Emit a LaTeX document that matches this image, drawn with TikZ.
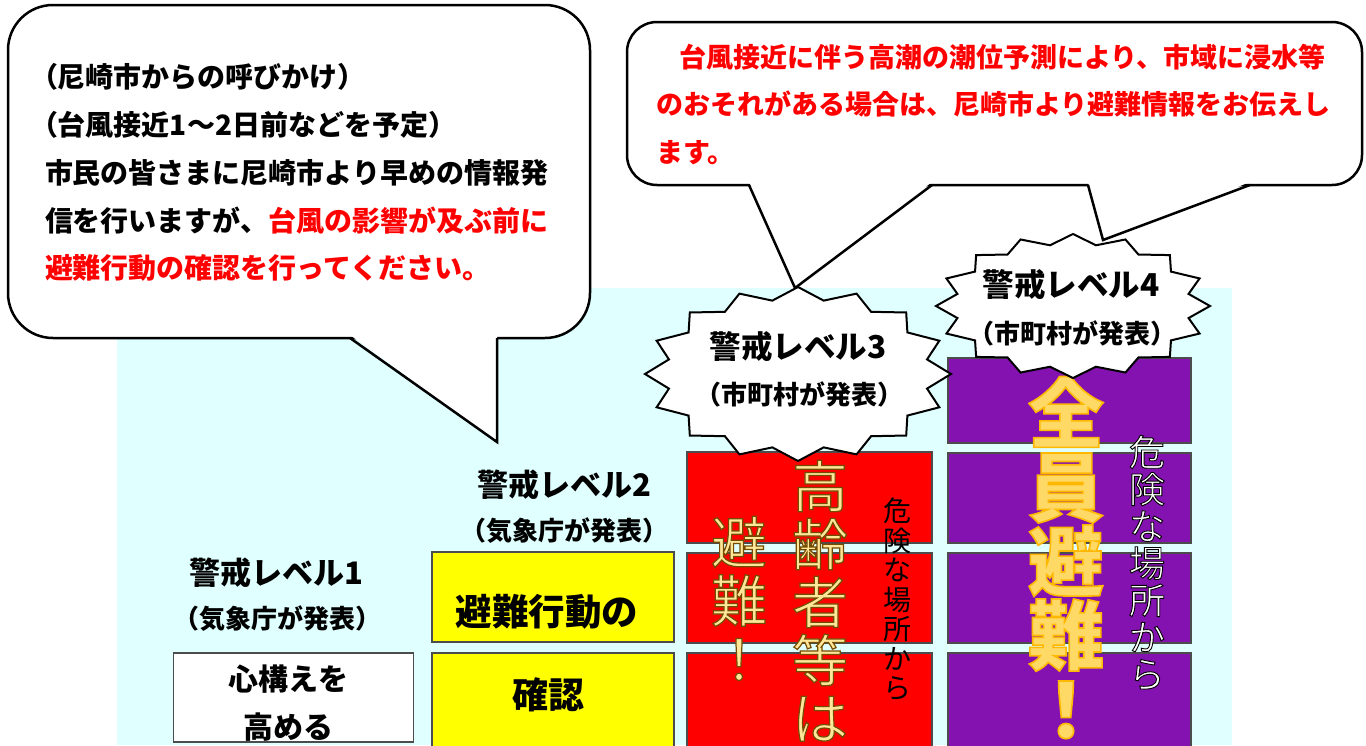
\documentclass[tikz,border=0pt]{standalone}
\usepackage{fontspec}
\setmainfont{Noto Sans CJK JP}
\usetikzlibrary{calc}
\definecolor{bgcyan}{HTML}{E0FFFF}
\definecolor{lvred}{HTML}{FF0000}
\definecolor{lvpurple}{HTML}{8412B0}
\definecolor{lvyellow}{HTML}{FFFF00}
\definecolor{goldA}{HTML}{FFE699}
\definecolor{goldB}{HTML}{FFD966}
\definecolor{txtred}{HTML}{FF0000}
\newcommand\fs[2]{\fontsize{#1}{#2}\selectfont\lineskiplimit=-200pt\relax}
\newcommand\cjs{\rule[-0.12em]{0pt}{1em}}
\newcommand\outl[3]{\special{pdf:literal direct #1 RG #2 w 2 Tr}#3\special{pdf:literal direct 0 Tr}}
\newcommand\burst[5]{%
  \filldraw[burstline] plot[samples at={0,...,31}, variable=\q]
   ({#1+#3*(1-#5*mod(\q,2))*cos(90+11.25*\q)},{#2-#4*(1-#5*mod(\q,2))*sin(90+11.25*\q)}) -- cycle;}
\begin{document}
\begin{tikzpicture}[x=1pt,y=-1pt,
  txt/.style={inner sep=0pt,outer sep=0pt},
  lvbox/.style={draw=black!70,line width=1.3pt,inner sep=0pt,outer sep=0pt},
  callbox/.style={draw=black,fill=white,line width=2.5pt,rectangle,inner sep=0pt},
  tailline/.style={draw=black,line width=2.5pt,line join=miter},
  burstline/.style={draw=black,fill=white,line width=2pt,line join=miter}]
\useasboundingbox (0,0) rectangle (1366,745);
\fill[white] (0,0) rectangle (1366,745);
\fill[bgcyan] (117,288) rectangle (1232,745);

% level boxes
\node[lvbox,fill=white,minimum width=240pt,minimum height=89pt] (w1) at (293.5,697.5) {};
\node[lvbox,fill=lvyellow,minimum width=242pt,minimum height=90pt] (y1) at (553,597) {};
\node[lvbox,fill=lvyellow,minimum width=242pt,minimum height=95pt] (y2) at (553,700.5) {};
\node[lvbox,fill=lvred,minimum width=245pt,minimum height=91pt] (r1) at (809.5,497.5) {};
\node[lvbox,fill=lvred,minimum width=245pt,minimum height=90pt] (r2) at (809.5,598) {};
\node[lvbox,fill=lvred,minimum width=245pt,minimum height=95pt] (r3) at (809.5,700.5) {};
\node[lvbox,fill=lvpurple,minimum width=243pt,minimum height=85pt] (p1) at (1069.5,400.5) {};
\node[lvbox,fill=lvpurple,minimum width=243pt,minimum height=90pt] (p2) at (1069.5,498) {};
\node[lvbox,fill=lvpurple,minimum width=243pt,minimum height=90pt] (p3) at (1069.5,598) {};
\node[lvbox,fill=lvpurple,minimum width=243pt,minimum height=95pt] (p4) at (1069.5,700.5) {};

% level labels
\node[txt,font=\fs{31}{31}\bfseries] (l1a) at (276,573) {\cjs 警戒レベル1};
\node[txt,font=\fs{26}{26}\bfseries] (l1b) at (277,619) {\cjs （気象庁が発表）};
\node[txt,font=\fs{31}{31}\bfseries] (l2a) at (564,485) {\cjs 警戒レベル2};
\node[txt,font=\fs{26}{26}\bfseries] (l2b) at (564,531) {\cjs （気象庁が発表）};

% box texts
\node[txt,font=\fs{30}{30}\bfseries] (w1a) at (288,679) {\cjs 心構えを};
\node[txt,font=\fs{30}{30}\bfseries] (w1b) at (288,727) {\cjs 高める};
\node[txt,font=\fs{36.5}{36.5}\bfseries] (y1t) at (547,612) {\cjs 避難行動の};
\node[txt,font=\fs{36}{36}\bfseries] (y2t) at (548,695) {\cjs 確認};

% vertical texts
\node[txt,anchor=north,align=center,text=goldA,font=\fs{56}{58.5}] (hinan) at (739,514)
  {\outl{0.45 0.3 0}{1.2}{\cjs 避\\難\\！}};
\node[txt,anchor=north,align=center,text=goldA,font=\fs{56}{58}] (koreisha) at (820,458)
  {\outl{0.45 0.3 0}{1.2}{\cjs 高\\齢\\者\\等\\は}};
\node[txt,anchor=north,align=center,text=black,font=\fs{28}{29.5}] (kiken3) at (897,497)
  {\cjs 危\\険\\な\\場\\所\\か\\ら};
\node[txt,anchor=north,align=center,text=goldB,font=\fs{76}{74}\bfseries] (zenin) at (1066,375)
  {\outl{1 0.72 0}{1.6}{\cjs 全\\員\\避\\難\\！}};
\node[txt,anchor=north,align=center,text=white,font=\fs{36}{37}] (kiken4) at (1147,434)
  {\outl{0 0 0}{0.9}{\cjs 危\\険\\な\\場\\所\\か\\ら}};

% left callout
\node[callbox,rounded corners=45pt,minimum width=582pt,minimum height=333pt] (cA) at (299,171.5) {};
\coordinate (tAa) at (350,338);
\coordinate (tAtip) at (497,442);
\coordinate (tAb) at (497,338);
\fill[white] ($(tAa)+(0,-3)$) -- (tAtip) -- ($(tAb)+(0,-3)$) -- cycle;
\draw[tailline] (tAa) -- (tAtip) -- (tAb);
\node[txt,anchor=west,font=\fs{28}{28}\bfseries] (cA1) at (30,77) {\cjs （尼崎市からの呼びかけ）};
\node[txt,anchor=west,font=\fs{28}{28}\bfseries] (cA2) at (30,125) {\cjs （台風接近1～2日前などを予定）};
\node[txt,anchor=west,font=\fs{28}{28}\bfseries] (cA3) at (45,173) {\cjs 市民の皆さまに尼崎市より早めの情報発};
\node[txt,anchor=west,font=\fs{28}{28}\bfseries] (cA4) at (45,221) {\cjs 信を行いますが、\textcolor{txtred}{台風の影響が及ぶ前に}};
\node[txt,anchor=west,font=\fs{28}{28}\bfseries,text=txtred] (cA5) at (45,268) {\cjs 避難行動の確認を行ってください。};

% right callout
\node[callbox,rounded corners=30pt,minimum width=735pt,minimum height=163pt] (cB) at (994.5,103.5) {};
\coordinate (tBa) at (749,185);
\coordinate (tBtip) at (795,288);
\coordinate (tBb) at (932,185);
\coordinate (tCa) at (1088,185);
\coordinate (tCtip) at (1103,240);
\coordinate (tCb) at (1250,185);
\fill[white] ($(tBa)+(0,-3)$) -- (tBtip) -- ($(tBb)+(0,-3)$) -- cycle;
\fill[white] ($(tCa)+(0,-3)$) -- (tCtip) -- ($(tCb)+(0,-3)$) -- cycle;
\draw[tailline] (tBa) -- (tBtip) -- (tBb);
\draw[tailline] (tCa) -- (tCtip) -- (tCb);
\node[txt,anchor=west,font=\fs{27}{27}\bfseries,text=txtred] (cB1) at (652,57) {\cjs 　台風接近に伴う高潮の潮位予測により、市域に浸水等};
\node[txt,anchor=west,font=\fs{27}{27}\bfseries,text=txtred] (cB2) at (656,104) {\cjs のおそれがある場合は、尼崎市より避難情報をお伝えし};
\node[txt,anchor=west,font=\fs{27}{27}\bfseries,text=txtred] (cB3) at (656,152) {\cjs ます。};

% bursts
\coordinate (b3) at (798,374);
\coordinate (b4) at (1073,306);
\burst{798}{374}{153}{87}{0.14}
\burst{1073}{306}{137}{72}{0.14}
\node[txt,font=\fs{31.5}{31.5}\bfseries] (b3a) at (798,347) {\cjs 警戒レベル3};
\node[txt,font=\fs{26}{26}\bfseries] (b3b) at (799,395) {\cjs （市町村が発表）};
\node[txt,font=\fs{31.5}{31.5}\bfseries] (b4a) at (1071,285) {\cjs 警戒レベル4};
\node[txt,font=\fs{26}{26}\bfseries] (b4b) at (1072,334) {\cjs （市町村が発表）};
\end{tikzpicture}
\end{document}
